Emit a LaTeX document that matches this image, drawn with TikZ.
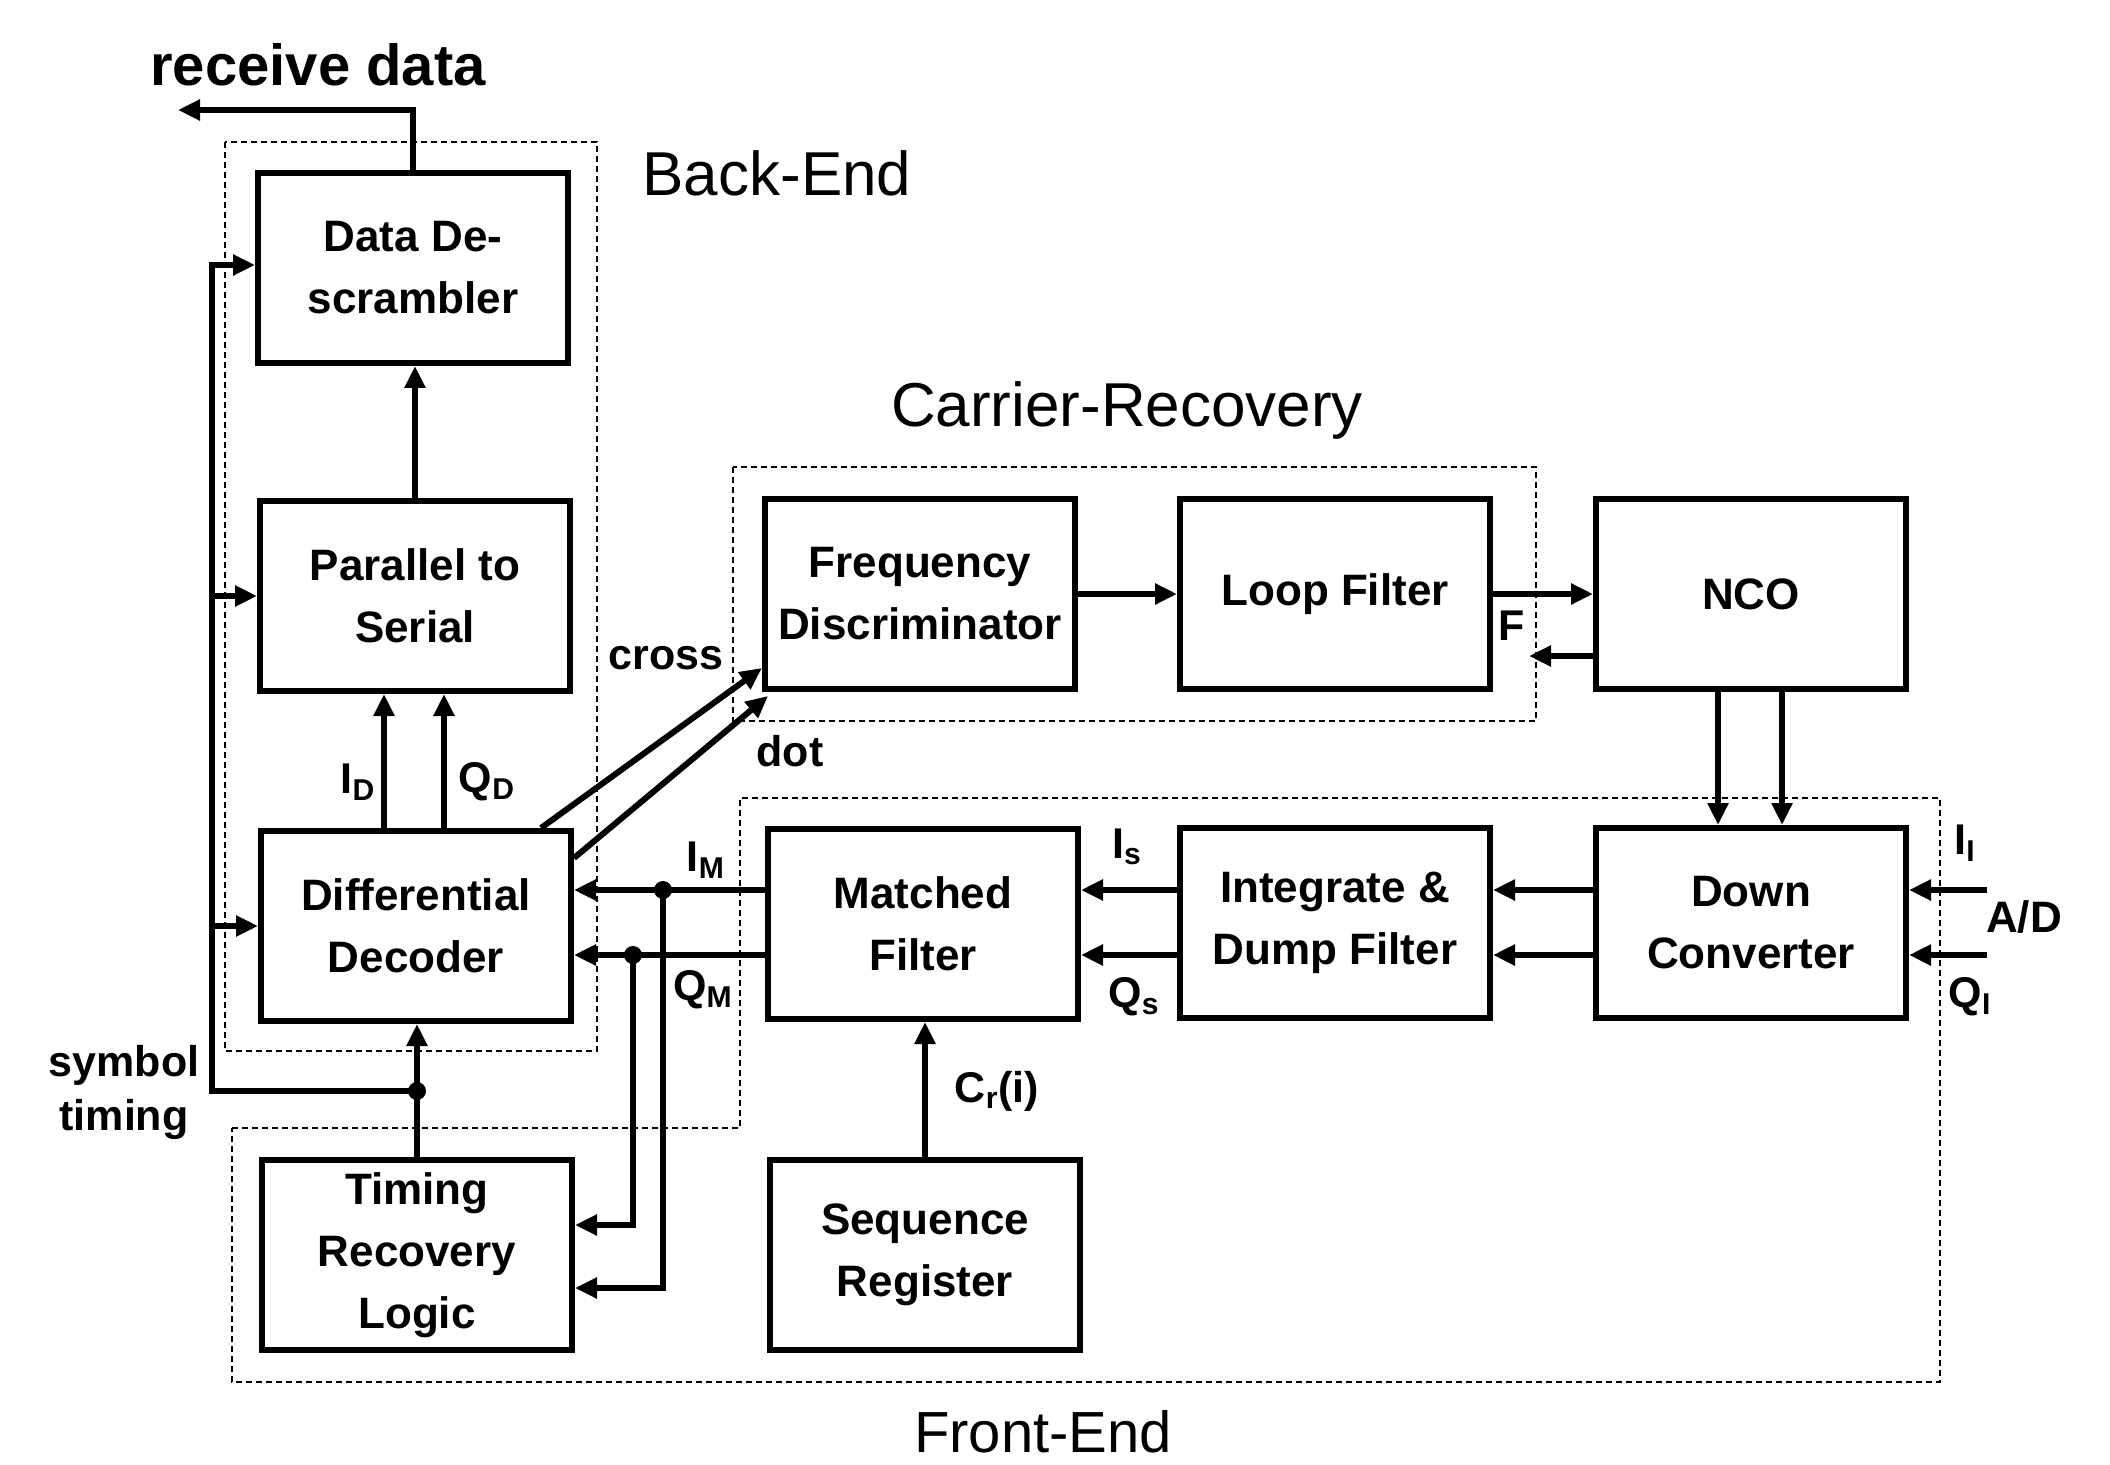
\documentclass[tikz,border=0pt]{standalone}
\usepackage{fontspec}
\setmainfont{Liberation Sans}
\usetikzlibrary{arrows.meta,calc}
\begin{document}
\begin{tikzpicture}[x=0.5pt,y=-0.5pt,
  blk/.style={draw,line width=3pt,minimum width=155pt,minimum height=95pt,align=center,font=\bfseries\fontsize{22}{31}\selectfont,inner sep=0pt},
  lbl/.style={font=\bfseries\fontsize{21.5}{27}\selectfont,inner sep=0pt,align=center},
  big/.style={font=\fontsize{31}{36}\selectfont,inner sep=0pt},
  wire/.style={line width=3pt},
  arr/.style={wire,-{Triangle[length=11pt,width=10pt]}},
  grp/.style={line width=1pt,dash pattern=on 3pt off 2pt},
  jn/.style={circle,fill,inner sep=0pt,minimum size=9pt}
]
\useasboundingbox (0,0) rectangle (2110,1465);

% group boxes
\draw[grp] (225,142) rectangle (597,1051);
\draw[grp] (733,467) rectangle (1536,721);
\draw[grp] (232,1128) -- (740,1128) -- (740,798) -- (1940,798) -- (1940,1382) -- (232,1382) -- cycle;

% blocks
\node[blk] (DDS) at (413,268) {Data De-\\scrambler};
\node[blk] (PS) at (415,596) {Parallel to\\Serial};
\node[blk] (DD) at (416,926) {Differential\\Decoder};
\node[blk] (TRL) at (417,1255) {Timing\\Recovery\\Logic};
\node[blk] (FD) at (920,594) {Frequency\\Discriminator};
\node[blk] (LF) at (1335,594) {Loop Filter};
\node[blk] (NCO) at (1751,594) {NCO};
\node[blk] (MF) at (923,924) {Matched\\Filter};
\node[blk] (SR) at (925,1255) {Sequence\\Register};
\node[blk] (IDF) at (1335,923) {Integrate \&\\Dump Filter};
\node[blk] (DC) at (1751,923) {Down\\Converter};

% titles
\node[font=\bfseries\fontsize{29}{34}\selectfont,inner sep=0pt] (rd) at (318,65) {receive data};
\node[big] (be) at (777,173) {Back-End};
\node[big] (cr) at (1127,410) {Carrier-Recovery};
\node[font=\fontsize{29}{34}\selectfont,inner sep=0pt] (fe) at (1043,1432) {Front-End};

% receive data output
\coordinate (rx) at (178,110);
\draw[arr] (DDS.north) |- (rx);
% P2S -> DDS
\draw[arr] (PS.north) -- (PS.north |- DDS.south);

% symbol timing bus
\coordinate (J1) at (417,1091);
\coordinate (BL) at (212,1091);
\coordinate (BT) at (212,265);
\coordinate (B2) at (212,596);
\coordinate (B3) at (212,926);
\draw[arr] (J1) -- (BL) -- (BT) -- (BT -| DDS.west);
\draw[arr] (B2) -- (PS.west);
\draw[arr] (B3) -- (DD.west);
\draw[arr] (TRL.north) -- (TRL.north |- DD.south);
\node[jn] at (J1) {};
\node[lbl] (st) at (124,1092) {symbol\\timing};

% DD -> P2S
\coordinate (xID) at (384,0);
\coordinate (xQD) at (444,0);
\draw[arr] (DD.north -| xID) -- (PS.south -| xID);
\draw[arr] (DD.north -| xQD) -- (PS.south -| xQD);
\node[lbl] (lID) at (358,782) {I\textsubscript{D}};
\node[lbl] (lQD) at (487,782) {Q\textsubscript{D}};

% DD -> FD
\draw[arr] ($(DD.north east)+(-33,0)$) -- ($(FD.south west)+(0,-24)$);
\draw[arr] ($(DD.north east)+(0,30)$) -- ($(FD.south west)+(6,4)$);
\node[lbl] (lcross) at (666,658) {cross};
\node[lbl] (ldot) at (790,751) {dot};

% carrier loop
\draw[arr] (FD.east) -- (LF.west);
\draw[arr] (LF.east) -- (NCO.west);
\coordinate (Fend) at (1529,656);
\draw[arr] (NCO.west |- Fend) -- (Fend);
\node[lbl] (lF) at (1512,626) {F};

% NCO -> DC
\coordinate (n1) at (1718,0);
\coordinate (n2) at (1782,0);
\draw[arr] (NCO.south -| n1) -- (DC.north -| n1);
\draw[arr] (NCO.south -| n2) -- (DC.north -| n2);

% A/D inputs
\coordinate (ad1) at (1987,890);
\coordinate (ad2) at (1987,955);
\draw[arr] (ad1) -- (ad1 -| DC.east);
\draw[arr] (ad2) -- (ad2 -| DC.east);
\node[lbl] (lII) at (1965,843) {I\textsubscript{I}};
\node[lbl] (lQI) at (1970,997) {Q\textsubscript{I}};
\node[font=\bfseries\fontsize{22}{26}\selectfont,inner sep=0pt] (lad) at (2024,917) {A/D};

% front-end chain
\coordinate (ya) at (0,890);
\coordinate (yb) at (0,955);
\draw[arr] (DC.west |- ya) -- (IDF.east |- ya);
\draw[arr] (DC.west |- yb) -- (IDF.east |- yb);
\draw[arr] (IDF.west |- ya) -- (MF.east |- ya);
\draw[arr] (IDF.west |- yb) -- (MF.east |- yb);
\node[lbl] (lIs) at (1127,847) {I\textsubscript{s}};
\node[lbl] (lQs) at (1134,997) {Q\textsubscript{s}};
\draw[arr] (MF.west |- ya) -- (DD.east |- ya);
\draw[arr] (MF.west |- yb) -- (DD.east |- yb);
\node[lbl] (lIM) at (706,860) {I\textsubscript{M}};
\node[lbl] (lQM) at (703,990) {Q\textsubscript{M}};

% to timing recovery
\coordinate (jI) at (663,890);
\coordinate (jQ) at (633,955);
\coordinate (tI) at (663,1288);
\coordinate (tQ) at (633,1225);
\draw[arr] (jI) -- (tI) -- (tI -| TRL.east);
\draw[arr] (jQ) -- (tQ) -- (tQ -| TRL.east);
\node[jn] at (jI) {};
\node[jn] at (jQ) {};

% sequence register
\draw[arr] (SR.north) -- (SR.north |- MF.south);
\node[lbl] (lCr) at (997,1091) {C\textsubscript{r}(i)};

\end{tikzpicture}
\end{document}
